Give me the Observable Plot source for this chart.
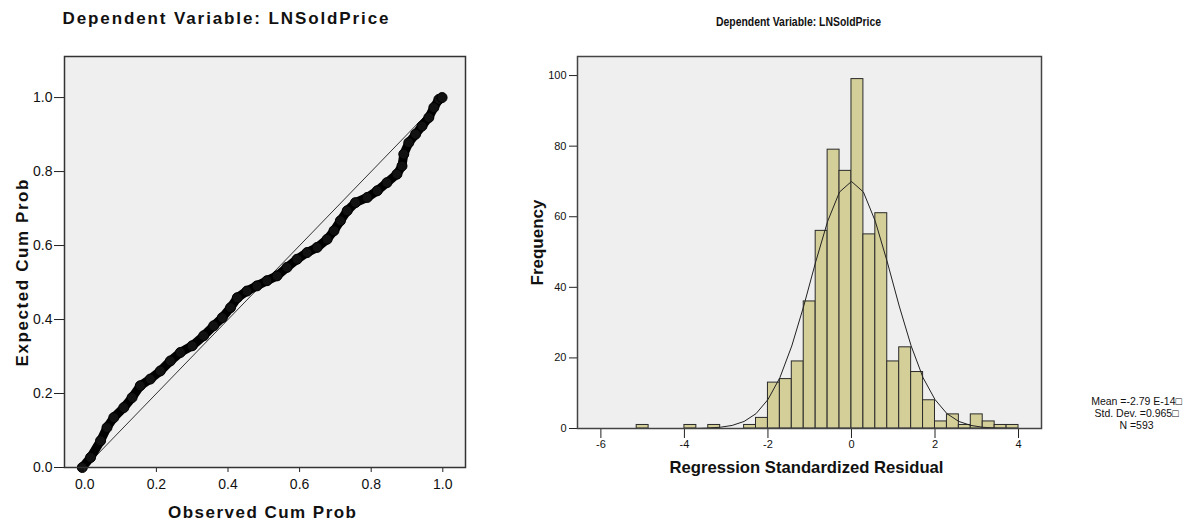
<!DOCTYPE html>
<html><head><meta charset="utf-8">
<script src="https://cdn.jsdelivr.net/npm/d3@7"></script>
<script src="https://cdn.jsdelivr.net/npm/@observablehq/plot@0.6"></script>
<style>
html,body{margin:0;padding:0;background:#fff;}
#wrap{position:relative;width:1192px;height:525px;overflow:hidden;}
#left,#right{position:absolute;top:0;}
#left{left:0;} #right{left:520px;}
svg{overflow:visible}
</style></head><body><div id="wrap"><div id="left"></div><div id="right"></div></div>
<script>
// ---- P-P plot data (left) ----
const leftTitle = "Dependent Variable: LNSoldPrice";
const leftXLabel = "Observed Cum Prob";
const leftYLabel = "Expected Cum Prob";
const ppTicks = [0, 0.2, 0.4, 0.6, 0.8, 1.0];
const ppObs = [-0.007,0.016,0.044,0.062,0.081,0.109,0.132,0.155,0.183,0.211,0.239,0.267,0.300,0.332,0.360,0.384,0.407,0.426,0.453,0.481,0.509,0.537,0.565,0.593,0.621,0.649,0.677,0.696,0.714,0.733,0.756,0.789,0.817,0.844,0.872,0.886,0.891,0.905,0.924,0.942,0.961,0.975,0.989,0.998];
const ppExp = [0,0.027,0.072,0.108,0.135,0.162,0.189,0.221,0.239,0.261,0.288,0.311,0.329,0.356,0.383,0.405,0.432,0.459,0.477,0.491,0.505,0.518,0.541,0.563,0.581,0.595,0.617,0.640,0.667,0.694,0.716,0.730,0.748,0.770,0.793,0.815,0.847,0.878,0.901,0.923,0.946,0.973,0.995,1.0];
const refLineX = [0, 1];
const refLineY = [0, 1];

// ---- Histogram data (right) ----
const rightTitle = "Dependent Variable: LNSoldPrice";
const rightXLabel = "Regression Standardized Residual";
const rightYLabel = "Frequency";
const histXTicks = [-6, -4, -2, 0, 2, 4];
const histYTicks = [0, 20, 40, 60, 80, 100];
const binWidth = 0.2857;
const binLow = [-5.143,-4.857,-4.571,-4.286,-4,-3.714,-3.429,-3.143,-2.857,-2.571,-2.286,-2,-1.714,-1.429,-1.143,-0.857,-0.571,-0.286,0,0.286,0.571,0.857,1.143,1.429,1.714,2,2.286,2.571,2.857,3.143,3.429,3.714];
const binCount = [1,0,0,0,1,0,1,0,0,1,3,13,14,19,36,56,79,73,99,55,61,19,23,16,8,2,4,1,4,2,1,1];
const curveX = [-4,-3.714,-3.429,-3.143,-2.857,-2.571,-2.286,-2,-1.714,-1.429,-1.143,-0.857,-0.571,-0.286,0,0.286,0.571,0.857,1.143,1.429,1.714,2,2.286,2.571,2.857,3.143,3.429,3.714,4];
const curveY = [0.01,0.04,0.13,0.35,0.87,2.0,4.2,8.2,14.4,23.4,34.7,47.2,58.7,67.0,70,67.0,58.7,47.2,34.7,23.4,14.4,8.2,4.2,2.0,0.87,0.35,0.13,0.04,0.01];
const legendLines = ["Mean =-2.79 E-14\u25A1", "Std. Dev. =0.965\u25A1", "N =593"];

const font = "'Liberation Sans', Arial, Helvetica, sans-serif";

// ---- Left chart ----
const pp = ppObs.map((o, i) => ({obs: o, exp: ppExp[i]}));
const diag = refLineX.map((x, i) => ({x, y: refLineY[i]}));
const left = Plot.plot({
  width: 480, height: 525,
  marginLeft: 64, marginRight: 15, marginTop: 56, marginBottom: 58,
  x: {domain: [-0.0567, 1.0634]},
  y: {domain: [0, 1.111]},
  style: {fontFamily: font, fontSize: "14px", color: "#111", background: "transparent", overflow: "visible"},
  marks: [
    Plot.frame({fill: "#efefef", stroke: "none"}),
    Plot.line(diag, {x: "x", y: "y", stroke: "#333", strokeWidth: 1}),
    Plot.line(pp, {x: "obs", y: "exp", stroke: "#000", strokeWidth: 9, strokeLinejoin: "round", strokeLinecap: "round"}),
    Plot.dot(pp, {x: "obs", y: "exp", r: 5, stroke: "#000", fill: "#111", strokeWidth: 1}),
    Plot.axisX(ppTicks, {tickSize: 5, tickPadding: 7, tickFormat: d => d.toFixed(1), label: null, stroke: "#222"}),
    Plot.axisY(ppTicks, {tickSize: 10, tickPadding: 2, tickFormat: d => d.toFixed(1), label: null, stroke: "#222"}),
    Plot.frame({stroke: "#333", strokeWidth: 1.5}),
    Plot.text([leftTitle], {frameAnchor: "top-left", textAnchor: "start", lineAnchor: "middle", dx: -2, dy: -38, fontWeight: "bold", fontSize: 17}),
    Plot.text([leftXLabel], {frameAnchor: "bottom", textAnchor: "middle", lineAnchor: "middle", dx: -3, dy: 45, fontWeight: "bold", fontSize: 17}),
    Plot.text([leftYLabel], {frameAnchor: "left", textAnchor: "middle", lineAnchor: "middle", rotate: -90, dx: -42, dy: 11, fontWeight: "bold", fontSize: 17})
  ]
});
document.getElementById("left").appendChild(left);

// ---- Right chart ----
const bins = binLow.map((b, i) => ({x1: b, x2: b + binWidth, n: binCount[i]})).filter(d => d.n > 0);
const curve = curveX.map((x, i) => ({x, y: curveY[i]}));
const right = Plot.plot({
  width: 672, height: 525,
  marginLeft: 57, marginRight: 151, marginTop: 56, marginBottom: 97,
  x: {domain: [-6.56, 4.55]},
  y: {domain: [0, 105.4]},
  style: {fontFamily: font, fontSize: "11px", color: "#111", background: "transparent", overflow: "visible"},
  marks: [
    Plot.frame({fill: "#efefef", stroke: "none"}),
    Plot.rectY(bins, {x1: "x1", x2: "x2", y: "n", fill: "#d4cf99", stroke: "#2a2a2a", strokeWidth: 1}),
    Plot.line(curve, {x: "x", y: "y", stroke: "#222", strokeWidth: 1}),
    Plot.axisX(histXTicks, {tickSize: 10, tickPadding: 2, tickFormat: d => String(d), label: null, stroke: "#222"}),
    Plot.axisY(histYTicks, {tickSize: 8, tickPadding: 3, tickFormat: d => String(d), label: null, stroke: "#222"}),
    Plot.frame({stroke: "#444", strokeWidth: 1.5}),
    Plot.text([rightTitle], {frameAnchor: "top", textAnchor: "middle", lineAnchor: "middle", dx: -11, dy: -35, fontWeight: "bold", fontSize: 13}),
    Plot.text([rightXLabel], {frameAnchor: "bottom", textAnchor: "middle", lineAnchor: "middle", dx: -3, dy: 39, fontWeight: "bold", fontSize: 17}),
    Plot.text([rightYLabel], {frameAnchor: "left", textAnchor: "middle", lineAnchor: "middle", rotate: -90, dx: -40, dy: 0, fontWeight: "bold", fontSize: 17}),
    Plot.text([legendLines.join("\n")], {frameAnchor: "bottom-right", textAnchor: "middle", lineAnchor: "middle", dx: 95, dy: -15, fontSize: 10.5, lineHeight: 1.15})
  ]
});
document.getElementById("right").appendChild(right);

// text width tuning (match the reference's letter spacing / condensed text)
function fit(svg, content, len, adjust) {
  svg.querySelectorAll("text").forEach(t => {
    if (t.textContent === content) {
      t.setAttribute("textLength", len);
      t.setAttribute("lengthAdjust", adjust);
    }
  });
}
fit(left, leftTitle, 326, "spacing");
fit(left, leftXLabel, 188, "spacing");
fit(left, leftYLabel, 187, "spacing");
fit(right, rightTitle, 165, "spacingAndGlyphs");
fit(right, rightXLabel, 274, "spacingAndGlyphs");
</script></body></html>
